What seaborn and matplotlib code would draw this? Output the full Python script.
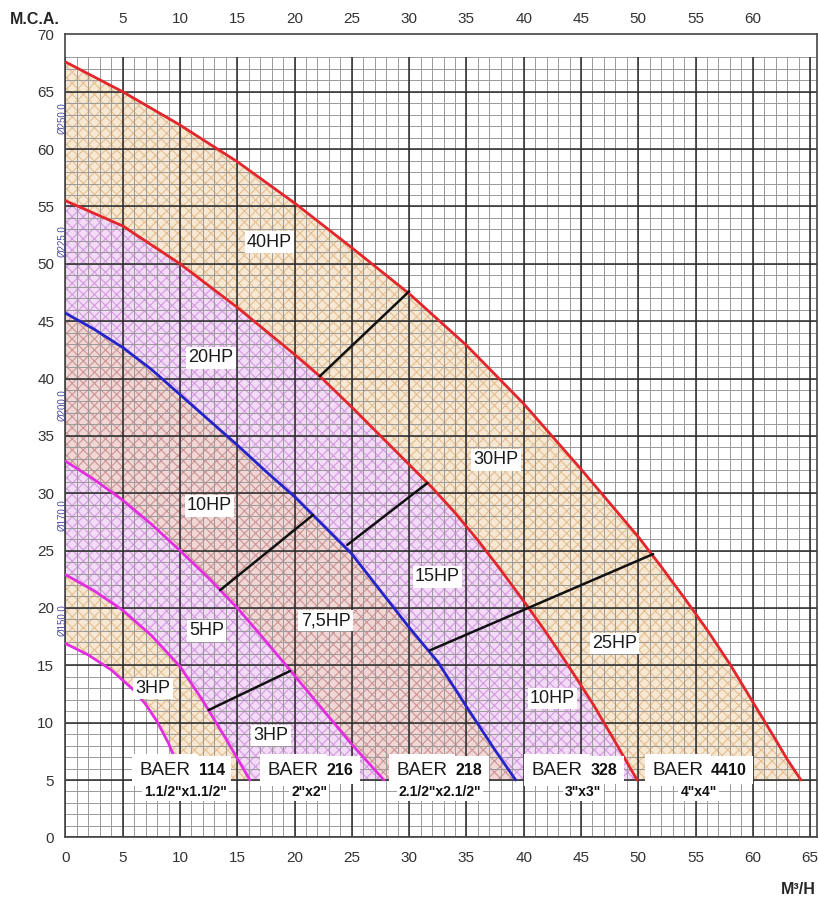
import numpy as np
import pandas as pd
import matplotlib
matplotlib.use("Agg")
import matplotlib.pyplot as plt
import seaborn as sns

# curvas de bombas (caudal m3/h vs altura m.c.a.)
q_250 = [0, 5, 10, 15, 20, 25, 30, 35, 40, 45, 50, 52, 54, 56, 58, 60, 62, 63, 64.2]
h_250 = [67.6, 65.0, 62.1, 58.9, 55.3, 51.4, 47.4, 42.9, 37.8, 32.1, 26.2, 23.6, 20.9, 18.1, 15.1, 11.8, 8.5, 6.8, 5.0]
q_225 = [0, 5, 10, 15, 20, 22.2, 25, 30, 32, 34, 36, 38, 40, 42, 44, 46, 48, 49.9]
h_225 = [55.5, 53.3, 50.0, 46.2, 42.1, 40.2, 37.5, 32.5, 30.5, 28.3, 25.9, 23.3, 20.6, 17.8, 14.8, 11.7, 8.3, 5.0]
q_200 = [0, 2.5, 5, 7.5, 10, 12.5, 15, 17.5, 20, 22.5, 25, 27.5, 30, 32.5, 35, 37.5, 39.3]
h_200 = [45.7, 44.3, 42.7, 40.8, 38.6, 36.4, 34.2, 31.9, 29.7, 27.2, 24.7, 21.5, 18.3, 15.3, 11.4, 7.6, 5.0]
q_170 = [0, 2.5, 5, 7.5, 10, 12.5, 15, 17.5, 20, 22.5, 25, 27.8]
h_170 = [32.8, 31.2, 29.4, 27.3, 25.0, 22.6, 20.0, 17.1, 14.1, 11.1, 8.1, 5.0]
q_150 = [0, 2.5, 5, 7.5, 10, 12, 14, 16.1]
h_150 = [22.9, 21.5, 19.8, 17.6, 14.9, 11.9, 8.6, 5.0]
q_in = [0, 2, 4, 6, 7, 8, 9, 10.3]
h_in = [16.9, 15.9, 14.6, 12.8, 11.6, 10.1, 8.2, 5.0]

# lineas divisorias de potencia
div_q = [[22.2, 30], [24.6, 31.6], [31.8, 51.3], [13.5, 21.6], [12.5, 19.6]]
div_h = [[40.2, 47.6], [25.5, 30.9], [16.3, 24.7], [21.55, 28.1], [11.1, 14.5]]

dia_labels = ["Ø250,0", "Ø225,0", "Ø200,0", "Ø170,0", "Ø150,0"]
dia_y = [62.7, 52.0, 37.7, 28.1, 18.9]

hp_labels = ["40HP", "20HP", "30HP", "10HP", "15HP", "7,5HP", "5HP", "3HP", "3HP", "25HP", "10HP"]
hp_x = [17.8, 12.7, 37.6, 12.56, 32.45, 22.7, 12.3, 7.65, 17.95, 47.9, 42.5]
hp_y = [51.9, 41.8, 32.9, 28.9, 22.7, 18.9, 18.0, 13.0, 8.9, 16.9, 12.1]

models = ["114", "216", "218", "328", "4410"]
model_x = [11.3, 22.45, 33.7, 45.5, 56.0]
sizes = ['1.1/2"x1.1/2"', '2"x2"', '2.1/2"x2.1/2"', '3"x3"', '4"x4"']
size_x = [10.44, 21.27, 32.7, 45.2, 55.25]

sns.set_theme(style="white")
plt.rcParams["font.family"] = ["Liberation Sans", "DejaVu Sans"]
plt.rcParams["hatch.linewidth"] = 0.8

fig = plt.figure(figsize=(8.18, 8.98), dpi=100)
ax = fig.add_axes([0.080, 0.0675, 0.9188, 0.8942])
ax.set_xlim(0, 65.6)
ax.set_ylim(0, 70)

# bandas rellenas entre curvas
tan = ("#f7e8d4", "#e4bf90")
violet = ("#f3daf6", "#d49be0")
rose = ("#f0d6d4", "#cc9494")
bands = [
    (q_250, h_250, q_225, h_225, tan),
    (q_225, h_225, q_200, h_200, violet),
    (q_200, h_200, q_170, h_170, rose),
    (q_170, h_170, q_150, h_150, violet),
    (q_150, h_150, q_in, h_in, tan),
]
for oq, oh, iq, ih, (fc, hc) in bands:
    ax.fill(oq + iq[::-1], oh + ih[::-1], facecolor=fc, edgecolor=hc,
            hatch="xxx", linewidth=0, zorder=1)

# cuadricula (solo hasta 68)
ax.vlines(np.arange(0, 66, 1), 0, 68, color="#9a9a9a", lw=0.7, zorder=2)
ax.hlines(np.arange(0, 69, 1), 0, 65.6, color="#9a9a9a", lw=0.7, zorder=2)
ax.vlines(np.arange(0, 66, 5), 0, 68, color="#2a2a2a", lw=1.1, zorder=2)
ax.hlines(np.arange(0, 69, 5), 0, 65.6, color="#2a2a2a", lw=1.1, zorder=2)

# curvas
curves = [(q_250, h_250, "#e3262b"), (q_225, h_225, "#e3262b"), (q_200, h_200, "#2424c8"),
          (q_170, h_170, "#e22ee0"), (q_150, h_150, "#e22ee0"), (q_in, h_in, "#e22ee0")]
for q, h, c in curves:
    sns.lineplot(x=q, y=h, ax=ax, color=c, lw=2.0, sort=False, estimator=None, zorder=4,
                 solid_joinstyle="round")

for q, h in zip(div_q, div_h):
    ax.plot(q, h, color="#111111", lw=1.8, zorder=4)

box = dict(boxstyle="square,pad=0.12", fc="white", ec="none")
for t, x, y in zip(hp_labels, hp_x, hp_y):
    ax.text(x, y, t, fontsize=13, ha="center", va="center", color="#1a1a1a", bbox=box, zorder=6)

for m, x, s, sx in zip(models, model_x, sizes, size_x):
    ax.text(x - 0.35, 5.87, "BAER", fontsize=13.5, ha="right", va="center", color="#1a1a1a",
            bbox=dict(boxstyle="square,pad=0.4", fc="white", ec="none"), zorder=6)
    ax.text(x + 0.35, 5.87, m, fontsize=11.5, fontweight="bold", ha="left", va="center",
            color="#111111", bbox=dict(boxstyle="square,pad=0.4", fc="white", ec="none"), zorder=6)
    ax.text(sx, 3.98, s, fontsize=10, fontweight="bold", ha="center", va="center",
            color="#111111", bbox=dict(boxstyle="square,pad=0.15", fc="white", ec="none"), zorder=6)

for t, y in zip(dia_labels, dia_y):
    ax.text(-0.3, y, t, fontsize=7, rotation=90, ha="center", va="center",
            color="#4b4b9e", clip_on=False, zorder=6)

ax.set_xticks(np.arange(0, 66, 5))
ax.set_yticks(np.arange(0, 71, 5))
ax.tick_params(axis="both", direction="out", length=6, width=1.0, color="#333333",
               labelsize=11, labelcolor="#333333", pad=2)
ax.tick_params(axis="x", pad=4)
top = ax.secondary_xaxis("top")
top.set_xticks(np.arange(5, 61, 5))
top.tick_params(length=0, labelsize=11, labelcolor="#333333", pad=6)
top.spines["top"].set_visible(False)

for sp in ax.spines.values():
    sp.set_color("#444444")
    sp.set_linewidth(1.2)
ax.set_xlabel("")
ax.set_ylabel("")

fig.text(10 / 818, 1 - 19 / 898, "M.C.A.", fontsize=11.5, fontweight="bold", ha="left", va="center")
fig.text(816 / 818, 1 - 890 / 898, "M³/H", fontsize=11.5, fontweight="bold", ha="right", va="center")

fig.savefig("out.png", dpi=100)
